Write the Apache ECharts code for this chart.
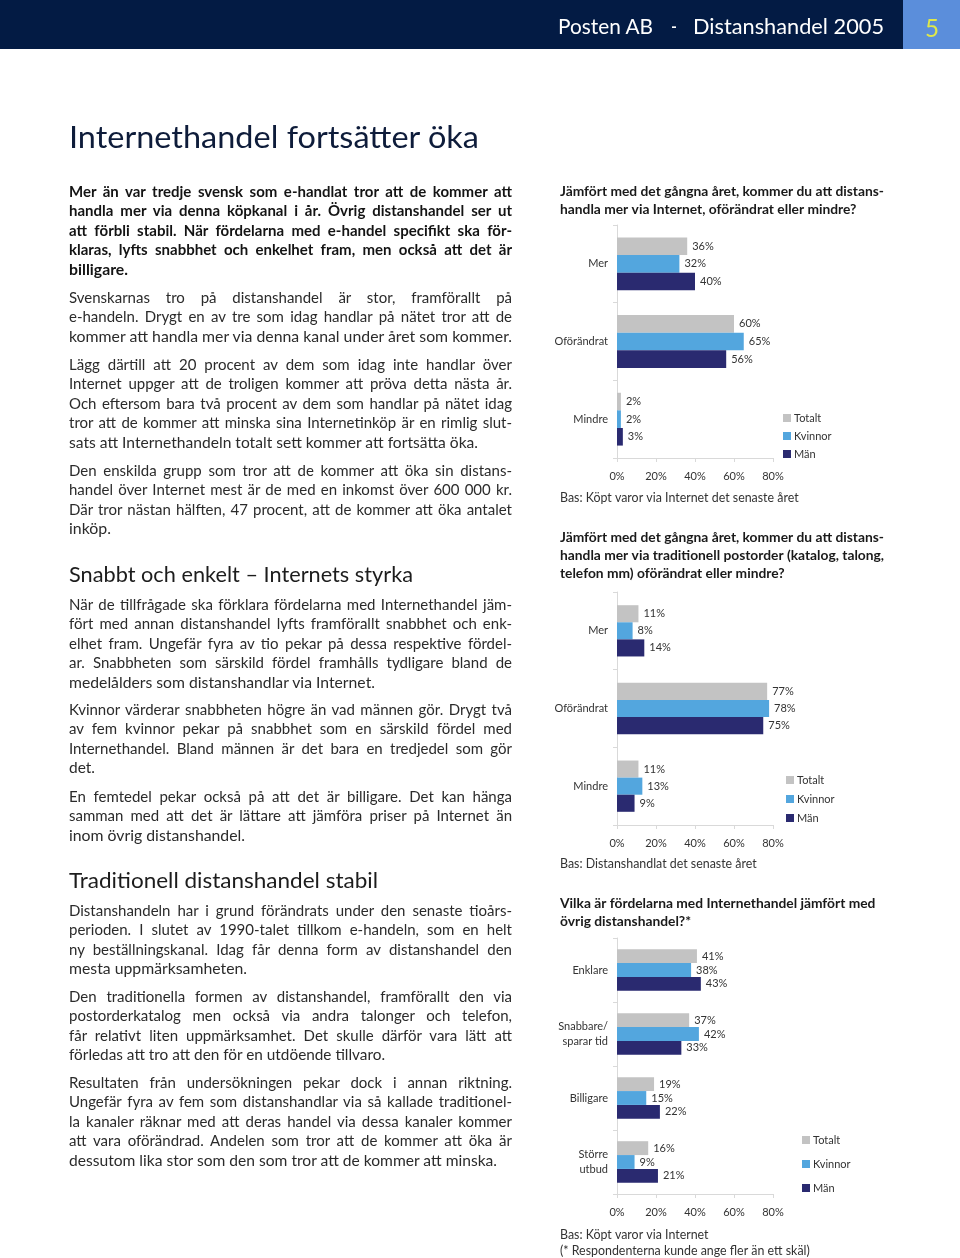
<!DOCTYPE html>
<html><head><meta charset="utf-8">
<script src="https://cdn.jsdelivr.net/npm/echarts@6/dist/echarts.min.js"></script>
<style>
html,body{margin:0;padding:0;width:960px;height:1258px;overflow:hidden;background:#fff;font-family:Lato,"Open Sans",sans-serif;}
#chart{position:absolute;left:0;top:0;width:960px;height:1258px;}
.t{position:absolute;white-space:nowrap;transform-origin:0 50%;}
</style></head><body>
<div style="position:absolute;left:0;top:0;width:903px;height:49px;background:#031b44"></div>
<div style="position:absolute;left:903px;top:0;width:57px;height:49px;background:#5b8edb"></div>
<div id="chart"></div>
<div id="page"></div>
<script>
// ---- chart data ----
const seriesNames = ['Totalt', 'Kvinnor', 'Män'];
const xTickValues = [0, 20, 40, 60, 80];

const c1Title = 'Jämfört med det gångna året, kommer du att distans-\nhandla mer via Internet, oförändrat eller mindre?';
const c1Categories = ['Mer', 'Oförändrat', 'Mindre'];
const c1Totalt = [36, 60, 2];
const c1Kvinnor = [32, 65, 2];
const c1Man = [40, 56, 3];
const c1Note = 'Bas: Köpt varor via Internet det senaste året';

const c2Title = 'Jämfört med det gångna året, kommer du att distans-\nhandla mer via traditionell postorder (katalog, talong,\ntelefon mm) oförändrat eller mindre?';
const c2Categories = ['Mer', 'Oförändrat', 'Mindre'];
const c2Totalt = [11, 77, 11];
const c2Kvinnor = [8, 78, 13];
const c2Man = [14, 75, 9];
const c2Note = 'Bas: Distanshandlat det senaste året';

const c3Title = 'Vilka är fördelarna med Internethandel jämfört med\növrig distanshandel?*';
const c3Categories = ['Enklare', 'Snabbare/\nsparar tid', 'Billigare', 'Större\nutbud'];
const c3Totalt = [41, 37, 19, 16];
const c3Kvinnor = [38, 42, 15, 9];
const c3Man = [43, 33, 22, 21];
const c3Note1 = 'Bas: Köpt varor via Internet';
const c3Note2 = '(* Respondenterna kunde ange fler än ett skäl)';

const colors = ['#c3c3c3', '#53a6de', '#2a2a70'];

// ---- page text ----
const W = 443; // column width
const paragraphs = [
  {y: 191, bold: true, lines: [
    ['Mer än var tredje svensk som e-handlat tror att de kommer att', 1],
    ['handla mer via denna köpkanal i år. Övrig distanshandel ser ut', 1],
    ['att förbli stabil. När fördelarna med e-handel specifikt ska för-', 1],
    ['klaras, lyfts snabbhet och enkelhet fram, men också att det är', 1],
    ['billigare.', 59]]},
  {y: 297, lines: [
    ['Svenskarnas tro på distanshandel är stor, framförallt på', 1],
    ['e-handeln. Drygt en av tre som idag handlar på nätet tror att de', 1],
    ['kommer att handla mer via denna kanal under året som kommer.', 443]]},
  {y: 364, lines: [
    ['Lägg därtill att 20 procent av dem som idag inte handlar över', 1],
    ['Internet uppger att de troligen kommer att pröva detta nästa år.', 1],
    ['Och eftersom bara två procent av dem som handlar på nätet idag', 1],
    ['tror att de kommer att minska sina Internetinköp är en rimlig slut-', 1],
    ['sats att Internethandeln totalt sett kommer att fortsätta öka.', 409]]},
  {y: 470, lines: [
    ['Den enskilda grupp som tror att de kommer att öka sin distans-', 1],
    ['handel över Internet mest är de med en inkomst över 600 000 kr.', 1],
    ['Där tror nästan hälften, 47 procent, att de kommer att öka antalet', 1],
    ['inköp.', 42]]},
  {y: 604, lines: [
    ['När de tillfrågade ska förklara fördelarna med Internethandel jäm-', 1],
    ['fört med annan distanshandel lyfts framförallt snabbhet och enk-', 1],
    ['elhet fram. Ungefär fyra av tio pekar på dessa respektive fördel-', 1],
    ['ar. Snabbheten som särskild fördel framhålls tydligare bland de', 1],
    ['medelålders som distanshandlar via Internet.', 306]]},
  {y: 709, lines: [
    ['Kvinnor värderar snabbheten högre än vad männen gör. Drygt två', 1],
    ['av fem kvinnor pekar på snabbhet som en särskild fördel med', 1],
    ['Internethandel. Bland männen är det bara en tredjedel som gör', 1],
    ['det.', 26]]},
  {y: 796, lines: [
    ['En femtedel pekar också på att det är billigare. Det kan hänga', 1],
    ['samman med att det är lättare att jämföra priser på Internet än', 1],
    ['inom övrig distanshandel.', 176]]},
  {y: 910, lines: [
    ['Distanshandeln har i grund förändrats under den senaste tioårs-', 1],
    ['perioden. I slutet av 1990-talet tillkom e-handeln, som en helt', 1],
    ['ny beställningskanal. Idag får denna form av distanshandel den', 1],
    ['mesta uppmärksamheten.', 178]]},
  {y: 996, lines: [
    ['Den traditionella formen av distanshandel, framförallt den via', 1],
    ['postorderkatalog men också via andra talonger och telefon,', 1],
    ['får relativt liten uppmärksamhet. Det skulle därför vara lätt att', 1],
    ['förledas att tro att den för en utdöende tillvaro.', 316]]},
  {y: 1082, lines: [
    ['Resultaten från undersökningen pekar dock i annan riktning.', 1],
    ['Ungefär fyra av fem som distanshandlar via så kallade traditionel-', 1],
    ['la kanaler räknar med att deras handel via dessa kanaler kommer', 1],
    ['att vara oförändrad. Andelen som tror att de kommer att öka är', 1],
    ['dessutom lika stor som den som tror att de kommer att minska.', 428]]}
];
const LH = 19.45;
const page = document.getElementById('page');

function place(text, x, yc, size, weight, color, target, justify) {
  const el = document.createElement('div');
  el.className = 't';
  el.textContent = text;
  const lh = Math.round(size * 1.3);
  el.style.left = x + 'px';
  el.style.top = (yc - lh / 2) + 'px';
  el.style.fontSize = size + 'px';
  el.style.lineHeight = lh + 'px';
  el.style.fontWeight = weight;
  el.style.color = color;
  page.appendChild(el);
  const w = el.getBoundingClientRect().width;
  if (target) {
    const spaces = (text.match(/ /g) || []).length;
    if (justify && w < target && spaces) {
      el.style.wordSpacing = ((target - w) / spaces) + 'px';
    } else {
      el.style.transform = 'scaleX(' + (target / w) + ')';
    }
  }
  return el;
}

// header
place('Posten AB', 558, 25, 22, 400, '#ffffff', 95, false);
place('-', 671, 25, 22, 400, '#ffffff', 6, false);
place('Distanshandel 2005', 693, 25, 22, 400, '#ffffff', 191, false);
place('5', 925, 27, 25, 400, '#dfe84a', 14, false);

// title & headings
place('Internethandel fortsätter öka', 69, 136, 31, 400, '#0e1c3a', 410, false);
place('Snabbt och enkelt – Internets styrka', 69, 573, 22, 400, '#1c1c1c', 344, false);
place('Traditionell distanshandel stabil', 69, 879, 22, 400, '#1c1c1c', 309, false);

paragraphs.forEach(p => {
  p.lines.forEach((ln, i) => {
    const justify = ln[1] === 1;
    const target = justify ? W : ln[1];
    place(ln[0], 69, p.y + i * LH, 15, p.bold ? 700 : 400, p.bold ? '#141414' : '#2b2b2b', target, justify);
  });
});

// ---- ECharts ----
const FONT = 'Lato';
function makeSeries(idx, vals, name) {
  return {
    type: 'bar', name: name, xAxisIndex: idx, yAxisIndex: idx, data: vals,
    barGap: '0%', barCategoryGap: idx === 0 ? '32%' : (idx === 1 ? '34%' : '35%'),
    itemStyle: {color: colors[seriesNames.indexOf(name)]},
    label: {show: true, position: 'right', distance: 5, formatter: '{c}%',
      fontSize: 11, color: '#333', fontFamily: FONT},
    silent: true
  };
}
function xAx(idx) {
  return {
    type: 'value', gridIndex: idx, min: 0, max: 80, interval: 20,
    axisLine: {show: true, lineStyle: {color: '#d9d9d9'}},
    axisTick: {show: true, length: 4, lineStyle: {color: '#d9d9d9'}},
    splitLine: {show: false},
    axisLabel: {formatter: v => xTickValues.includes(v) ? v + '%' : '', fontSize: 11, color: '#333', margin: 13, fontFamily: FONT}
  };
}
function yAx(idx, cats) {
  return {
    type: 'category', gridIndex: idx, data: cats, inverse: true,
    axisLine: {show: true, lineStyle: {color: '#d9d9d9'}},
    axisTick: {show: true, length: 4, lineStyle: {color: '#d9d9d9'}},
    axisLabel: {fontSize: 11, color: '#333', margin: 9, fontFamily: FONT, lineHeight: 15}
  };
}
function legend(left, top, gap) {
  return {
    data: seriesNames, orient: 'vertical', left: left, top: top, itemGap: gap, padding: 0,
    itemWidth: 8, itemHeight: 8, icon: 'rect', selectedMode: false,
    textStyle: {fontSize: 11, color: '#333', fontFamily: FONT, lineHeight: 12, padding: [0, 0, 0, -2]}
  };
}
function titleOpt(text, top) {
  return {text: text, left: 560, top: top, padding: 0,
    textStyle: {fontSize: 13.8, fontWeight: 'bold', color: '#1a1a1a', lineHeight: 17.7, fontFamily: FONT}};
}
function note(text, y) {
  return {type: 'text', left: 560, top: y - 5, silent: true,
    style: {text: text, fontSize: 12.4, fill: '#333', fontFamily: FONT}};
}

const chart = echarts.init(document.getElementById('chart'), null, {renderer: 'canvas'});
chart.setOption({
  animation: false,
  textStyle: {fontFamily: FONT},
  title: [titleOpt(c1Title, 183), titleOpt(c2Title, 529), titleOpt(c3Title, 895)],
  legend: [legend(783, 412, 6), legend(786, 774, 7), legend(802, 1134, 12)],
  grid: [
    {left: 617, top: 225, width: 156, height: 233},
    {left: 617, top: 592, width: 156, height: 233},
    {left: 617, top: 938, width: 156, height: 256}
  ],
  xAxis: [xAx(0), xAx(1), xAx(2)],
  yAxis: [yAx(0, c1Categories), yAx(1, c2Categories), yAx(2, c3Categories)],
  series: [
    makeSeries(0, c1Totalt, 'Totalt'), makeSeries(0, c1Kvinnor, 'Kvinnor'), makeSeries(0, c1Man, 'Män'),
    makeSeries(1, c2Totalt, 'Totalt'), makeSeries(1, c2Kvinnor, 'Kvinnor'), makeSeries(1, c2Man, 'Män'),
    makeSeries(2, c3Totalt, 'Totalt'), makeSeries(2, c3Kvinnor, 'Kvinnor'), makeSeries(2, c3Man, 'Män')
  ],
  graphic: [note(c1Note, 497), note(c2Note, 863), note(c3Note1, 1234), note(c3Note2, 1250)]
});
</script>
</body></html>
